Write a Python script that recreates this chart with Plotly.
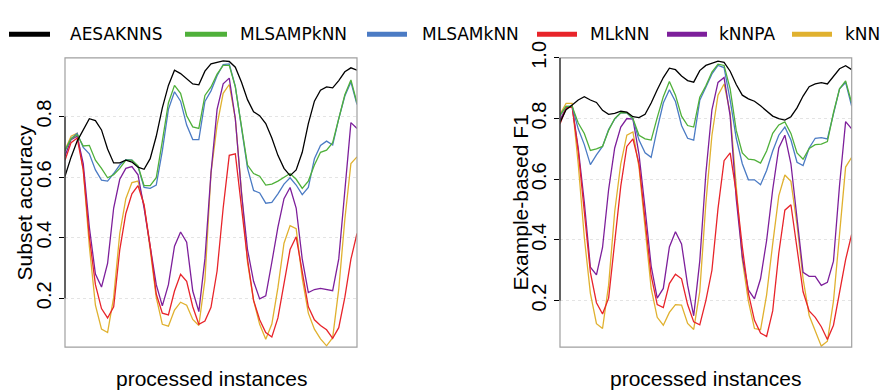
import plotly.graph_objects as go

# ---------------------------------------------------------------------------
# Data: evaluation measures recorded along the stream of processed instances
# ---------------------------------------------------------------------------
instances = list(range(49))

series_names = ["AESAKNNS", "MLSAMPkNN", "MLSAMkNN", "MLkNN", "kNNPA", "kNN"]
series_colors = ["#000000", "#4fb03a", "#4b7bc4", "#e8242a", "#7d1f9b", "#e0b12f"]

# Subset accuracy
aesaknns_acc = [0.603, 0.666, 0.719, 0.756, 0.793, 0.787, 0.756, 0.693, 0.647, 0.647,
                0.656, 0.650, 0.633, 0.626, 0.661, 0.735, 0.829, 0.903, 0.953, 0.942,
                0.924, 0.908, 0.905, 0.950, 0.974, 0.980, 0.984, 0.982, 0.963, 0.914,
                0.856, 0.816, 0.803, 0.777, 0.729, 0.672, 0.629, 0.605, 0.624, 0.682,
                0.777, 0.851, 0.887, 0.898, 0.895, 0.919, 0.948, 0.961, 0.953]
mlsampknn_acc = [0.687, 0.727, 0.740, 0.703, 0.705, 0.656, 0.629, 0.598, 0.608, 0.629,
                 0.656, 0.656, 0.637, 0.572, 0.572, 0.598, 0.719, 0.845, 0.903, 0.877,
                 0.803, 0.766, 0.761, 0.870, 0.898, 0.940, 0.969, 0.969, 0.898, 0.770,
                 0.640, 0.612, 0.603, 0.574, 0.577, 0.587, 0.601, 0.612, 0.593, 0.563,
                 0.587, 0.640, 0.682, 0.689, 0.714, 0.793, 0.872, 0.921, 0.845]
mlsamknn_acc = [0.687, 0.727, 0.745, 0.698, 0.677, 0.624, 0.590, 0.587, 0.612, 0.640,
                0.658, 0.656, 0.635, 0.566, 0.563, 0.574, 0.687, 0.824, 0.882, 0.851,
                0.772, 0.724, 0.724, 0.850, 0.885, 0.935, 0.972, 0.974, 0.900, 0.770,
                0.630, 0.556, 0.548, 0.514, 0.517, 0.545, 0.577, 0.598, 0.574, 0.542,
                0.566, 0.661, 0.705, 0.719, 0.706, 0.793, 0.868, 0.914, 0.840]
mlknn_acc = [0.656, 0.714, 0.729, 0.624, 0.403, 0.245, 0.166, 0.135, 0.172, 0.360,
             0.480, 0.545, 0.572, 0.508, 0.372, 0.214, 0.151, 0.145, 0.224, 0.279,
             0.256, 0.172, 0.114, 0.125, 0.170, 0.290, 0.498, 0.672, 0.677, 0.508,
             0.329, 0.193, 0.129, 0.087, 0.072, 0.135, 0.251, 0.361, 0.403, 0.287,
             0.172, 0.129, 0.110, 0.096, 0.068, 0.103, 0.203, 0.329, 0.414]
knnpa_acc = [0.670, 0.724, 0.735, 0.645, 0.435, 0.280, 0.237, 0.315, 0.498, 0.593,
             0.629, 0.635, 0.608, 0.498, 0.372, 0.245, 0.175, 0.245, 0.372, 0.419,
             0.385, 0.224, 0.156, 0.330, 0.614, 0.824, 0.908, 0.927, 0.793, 0.550,
             0.361, 0.256, 0.198, 0.208, 0.319, 0.435, 0.529, 0.566, 0.498, 0.329,
             0.219, 0.229, 0.233, 0.229, 0.225, 0.330, 0.560, 0.780, 0.761]
knn_acc = [0.690, 0.735, 0.745, 0.624, 0.372, 0.177, 0.098, 0.087, 0.203, 0.414,
           0.529, 0.582, 0.587, 0.508, 0.361, 0.203, 0.114, 0.108, 0.161, 0.187,
           0.177, 0.130, 0.110, 0.260, 0.614, 0.772, 0.877, 0.906, 0.793, 0.550,
           0.319, 0.193, 0.114, 0.065, 0.115, 0.235, 0.382, 0.440, 0.430, 0.266,
           0.151, 0.098, 0.066, 0.043, 0.070, 0.230, 0.460, 0.645, 0.667]

# Example-based F1
aesaknns_f1 = [0.787, 0.829, 0.845, 0.861, 0.872, 0.861, 0.853, 0.827, 0.814, 0.817,
               0.824, 0.821, 0.806, 0.803, 0.814, 0.851, 0.895, 0.935, 0.966, 0.961,
               0.940, 0.925, 0.920, 0.958, 0.975, 0.983, 0.989, 0.985, 0.956, 0.912,
               0.877, 0.865, 0.857, 0.842, 0.824, 0.808, 0.800, 0.795, 0.806, 0.835,
               0.874, 0.905, 0.914, 0.918, 0.914, 0.940, 0.964, 0.974, 0.961]
mlsampknn_f1 = [0.810, 0.840, 0.840, 0.785, 0.751, 0.695, 0.700, 0.708, 0.761, 0.800,
                0.819, 0.819, 0.800, 0.745, 0.733, 0.729, 0.803, 0.872, 0.922, 0.877,
                0.808, 0.777, 0.772, 0.870, 0.908, 0.953, 0.979, 0.975, 0.898, 0.761,
                0.687, 0.666, 0.664, 0.653, 0.693, 0.751, 0.779, 0.789, 0.751, 0.687,
                0.666, 0.701, 0.714, 0.716, 0.724, 0.819, 0.898, 0.924, 0.851]
mlsamknn_f1 = [0.810, 0.840, 0.840, 0.766, 0.714, 0.648, 0.680, 0.708, 0.764, 0.798,
               0.819, 0.819, 0.798, 0.729, 0.687, 0.672, 0.766, 0.851, 0.895, 0.856,
               0.777, 0.735, 0.729, 0.860, 0.903, 0.947, 0.975, 0.968, 0.861, 0.735,
               0.651, 0.598, 0.598, 0.582, 0.629, 0.693, 0.745, 0.772, 0.729, 0.656,
               0.645, 0.703, 0.735, 0.737, 0.733, 0.819, 0.898, 0.919, 0.840]
mlknn_f1 = [0.782, 0.835, 0.838, 0.693, 0.493, 0.293, 0.193, 0.156, 0.208, 0.398,
            0.577, 0.708, 0.733, 0.651, 0.461, 0.282, 0.187, 0.177, 0.256, 0.287,
            0.272, 0.187, 0.130, 0.120, 0.200, 0.300, 0.503, 0.661, 0.687, 0.556,
            0.377, 0.224, 0.135, 0.093, 0.082, 0.166, 0.356, 0.498, 0.516, 0.377,
            0.229, 0.166, 0.145, 0.114, 0.072, 0.119, 0.229, 0.335, 0.419]
knnpa_f1 = [0.795, 0.835, 0.840, 0.703, 0.524, 0.310, 0.285, 0.375, 0.566, 0.703,
            0.772, 0.800, 0.798, 0.682, 0.503, 0.314, 0.208, 0.240, 0.377, 0.427,
            0.387, 0.251, 0.150, 0.330, 0.619, 0.829, 0.919, 0.935, 0.808, 0.535,
            0.345, 0.235, 0.206, 0.272, 0.398, 0.566, 0.703, 0.745, 0.651, 0.461,
            0.293, 0.280, 0.280, 0.250, 0.260, 0.330, 0.580, 0.790, 0.766]
knn_f1 = [0.814, 0.850, 0.850, 0.650, 0.408, 0.224, 0.124, 0.108, 0.251, 0.493,
          0.651, 0.745, 0.756, 0.640, 0.440, 0.240, 0.145, 0.119, 0.161, 0.187,
          0.185, 0.125, 0.105, 0.230, 0.520, 0.745, 0.877, 0.914, 0.819, 0.566,
          0.335, 0.198, 0.108, 0.104, 0.219, 0.387, 0.545, 0.614, 0.593, 0.450,
          0.272, 0.151, 0.103, 0.050, 0.066, 0.198, 0.419, 0.640, 0.672]

acc_series = [aesaknns_acc, mlsampknn_acc, mlsamknn_acc, mlknn_acc, knnpa_acc, knn_acc]
f1_series = [aesaknns_f1, mlsampknn_f1, mlsamknn_f1, mlknn_f1, knnpa_f1, knn_f1]

acc_ticks = [0.2, 0.4, 0.6, 0.8]
f1_ticks = [0.2, 0.4, 0.6, 0.8, 1.0]

# ---------------------------------------------------------------------------
# Figure geometry (pixels)
# ---------------------------------------------------------------------------
W, H = 881, 392
PANEL_TOP, PANEL_BOTTOM = 42.7, 345.0
LEFT_X = (65.0, 357.0)
RIGHT_X = (560.0, 851.7)
AXIS_FONT = "Liberation Sans, Arial, sans-serif"
LEGEND_FONT = "DejaVu Sans, sans-serif"


def fx(px):
    return px / W


def fy(py):
    return 1.0 - py / H


fig = go.Figure()

# Draw from the bottom of the legend order upwards so AESAKNNS ends on top
for panel, data in (("1", acc_series), ("2", f1_series)):
    xa = "x" if panel == "1" else "x2"
    ya = "y" if panel == "1" else "y2"
    for k in reversed(range(len(series_names))):
        fig.add_trace(go.Scatter(
            x=instances, y=data[k], mode="lines", name=series_names[k],
            line=dict(color=series_colors[k], width=1.3),
            xaxis=xa, yaxis=ya, showlegend=False, hoverinfo="skip",
        ))

y_domain = [fy(PANEL_BOTTOM), fy(PANEL_TOP)]
common_x = dict(range=[instances[0], instances[-1]], showticklabels=False, ticks="",
                showgrid=False, zeroline=False, showline=False)
common_y = dict(tickangle=-90, ticks="outside", ticklen=5, tickwidth=1, tickcolor="#000000",
                tickfont=dict(family=AXIS_FONT, size=20, color="#000000"),
                showgrid=True, gridcolor="#e4e4e4", gridwidth=1, griddash="dot",
                zeroline=False, showline=False, domain=y_domain)

fig.update_layout(
    width=W, height=H, margin=dict(l=0, r=0, t=0, b=0),
    paper_bgcolor="white", plot_bgcolor="white", showlegend=False,
    xaxis=dict(domain=[fx(LEFT_X[0]), fx(LEFT_X[1])], anchor="y", **common_x),
    xaxis2=dict(domain=[fx(RIGHT_X[0]), fx(RIGHT_X[1])], anchor="y2", **common_x),
    yaxis=dict(range=[0.039, 0.994], tickvals=acc_ticks,
               ticktext=[f"{v:.1f}" for v in acc_ticks], anchor="x", **common_y),
    yaxis2=dict(range=[0.047, 1.0], tickvals=f1_ticks,
                ticktext=[f"{v:.1f}" for v in f1_ticks], anchor="x2", **common_y),
)

shapes = []
# Gray box around each panel and a black axis line spanning the ticks
for xr, yr, ticks in (("x", "y", acc_ticks), ("x2", "y2", f1_ticks)):
    shapes.append(dict(type="rect", xref=f"{xr} domain", yref=f"{yr} domain",
                       x0=0, x1=1, y0=0, y1=1, line=dict(color="#a0a0a0", width=1.2),
                       layer="above"))
    shapes.append(dict(type="line", xref=f"{xr} domain", yref=yr,
                       x0=0, x1=0, y0=ticks[0], y1=ticks[-1],
                       line=dict(color="#000000", width=1), layer="above"))

annotations = []
# Axis titles
for title, cx in (("Subset accuracy", 24), ("Example-based F1", 520)):
    annotations.append(dict(text=title, x=fx(cx), y=fy((PANEL_TOP + PANEL_BOTTOM) / 2),
                            xref="paper", yref="paper", textangle=-90,
                            xanchor="center", yanchor="middle", showarrow=False,
                            font=dict(family=AXIS_FONT, size=21, color="#000000")))
for xr in (LEFT_X, RIGHT_X):
    annotations.append(dict(text="processed instances", x=fx((xr[0] + xr[1]) / 2),
                            y=fy(378), xref="paper", yref="paper",
                            xanchor="center", yanchor="middle", showarrow=False,
                            font=dict(family=AXIS_FONT, size=21, color="#000000")))

# Legend across the top: swatch start/end and text start (pixels)
legend_slots = [(9, 50, 68), (185, 227, 238), (367, 407, 420),
                (537, 577, 588), (667, 707, 717), (792, 832, 843)]
LEGEND_Y = 18
for name, color, (x0, x1, tx) in zip(series_names, series_colors, legend_slots):
    shapes.append(dict(type="line", xref="paper", yref="paper",
                       x0=fx(x0), x1=fx(x1), y0=fy(LEGEND_Y), y1=fy(LEGEND_Y),
                       line=dict(color=color, width=5)))
    annotations.append(dict(text=name, x=fx(tx), y=fy(LEGEND_Y), xref="paper", yref="paper",
                            xanchor="left", yanchor="middle", showarrow=False,
                            font=dict(family=LEGEND_FONT, size=17, color="#000000")))

fig.update_layout(shapes=shapes, annotations=annotations)
fig.write_html("out.html")
